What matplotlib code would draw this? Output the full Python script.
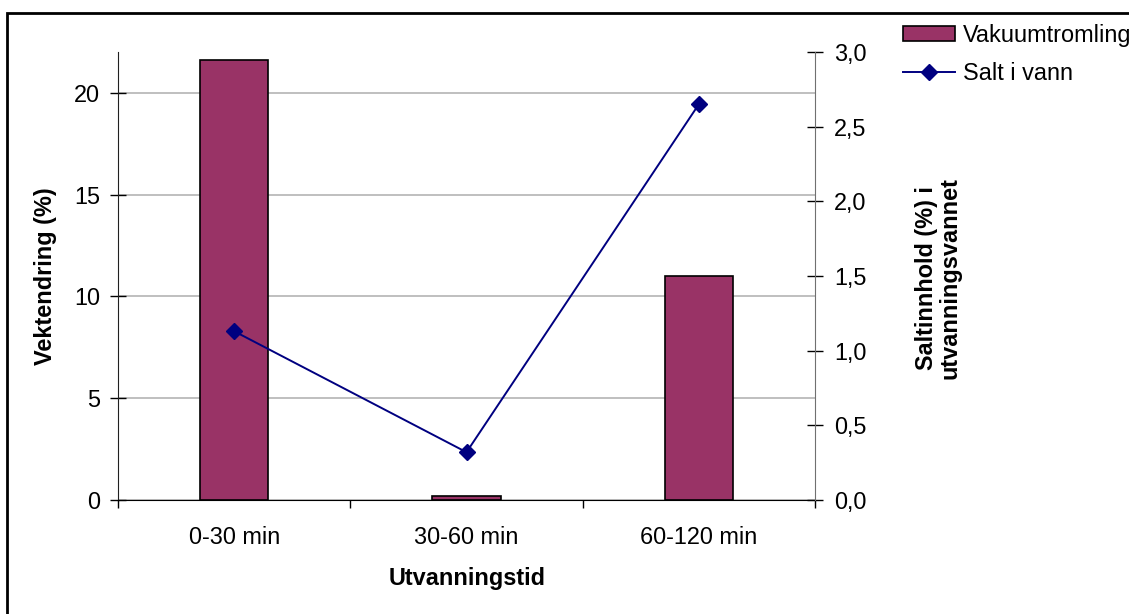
import numpy as np
import matplotlib
matplotlib.use("Agg")
import matplotlib.pyplot as plt
from matplotlib.patches import Rectangle
from matplotlib.ticker import FuncFormatter, FixedLocator

plt.rcParams['font.family'] = ['Liberation Sans', 'DejaVu Sans']
FS = 16.9

# data
kategorier = ['0-30 min', '30-60 min', '60-120 min']
vektendring = [21.6, 0.2, 11.0]        # bars, left axis (%)
salt_i_vann = [1.13, 0.32, 2.65]       # line, right axis (%)

fig = plt.figure(figsize=(11.29, 6.14), dpi=100)
ax = fig.add_axes([118/1129, 1-500/614, 697/1129, 448/614])
ax2 = ax.twinx()

x = np.arange(len(kategorier))
bars = ax.bar(x, vektendring, width=0.293, color='#993366', edgecolor='black',
              linewidth=1.2, label='Vakuumtromling', zorder=2)
line, = ax2.plot(x, salt_i_vann, color='#000080', lw=1.4, marker='D',
                 markersize=8.5, label='Salt i vann')

# left axis
ax.set_xlim(-0.5, 2.5)
ax.set_ylim(0, 22)
ax.set_yticks([0, 5, 10, 15, 20])
ax.yaxis.grid(True, color='#b4b4b4', lw=1.2)
ax.set_axisbelow(True)
ax.tick_params(axis='y', direction='inout', length=11.5, width=1, pad=7,
               labelsize=FS, colors='black')
ax.spines['top'].set_visible(False)
ax.spines['right'].set_visible(False)
ax.spines['left'].set_color('#202020')

# x axis: labels at centres, tick marks at boundaries
ax.set_xticks(x)
ax.set_xticklabels(kategorier)
ax.xaxis.set_minor_locator(FixedLocator([-0.5, 0.5, 1.5, 2.5]))
ax.tick_params(axis='x', which='major', length=0, pad=19, labelsize=FS)
ax.tick_params(axis='x', which='minor', direction='out', length=6, width=1)

# right axis
ax2.set_ylim(0, 3.0)
ax2.set_yticks(np.arange(0, 3.01, 0.5))
ax2.yaxis.set_major_formatter(FuncFormatter(lambda v, p: f"{v:.1f}".replace('.', ',')))
ax2.tick_params(axis='y', direction='inout', length=11, width=1, pad=8,
                labelsize=FS, colors='black')
for s in ['top', 'left', 'bottom']:
    ax2.spines[s].set_visible(False)
ax2.spines['right'].set_color('#707070')

# axis titles
fig.text(46/1129, 1-276/614, 'Vektendring (%)', rotation=90, ha='center',
         va='center', fontsize=FS, fontweight='bold')
fig.text(938/1129, 1-278/614, 'Saltinnhold (%) i\nutvanningsvannet', rotation=90,
         ha='center', va='center', fontsize=FS, fontweight='bold',
         multialignment='center', linespacing=1.0)
fig.text(467/1129, 1-578/614, 'Utvanningstid', ha='center', va='center',
         fontsize=FS, fontweight='bold')

# legend
fig.legend([bars, line], ['Vakuumtromling', 'Salt i vann'], loc='upper left',
           bbox_to_anchor=(903/1129, 1-24/614), frameon=False, fontsize=FS,
           borderpad=0, borderaxespad=0, handlelength=2.2, handleheight=0.6,
           handletextpad=0.35, labelspacing=0.64)

# outer frame
fig.add_artist(Rectangle((7/1129, -0.1), 1.2, 1.1 - 13/614, transform=fig.transFigure,
                         fill=False, edgecolor='black', lw=2))

fig.savefig('out.png', dpi=100)
